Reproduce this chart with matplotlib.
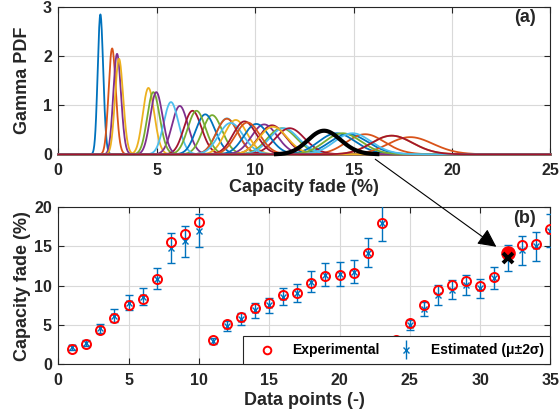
import math
import numpy as np
import matplotlib
matplotlib.use("Agg")
import matplotlib.pyplot as plt
from matplotlib.patches import ConnectionPatch
from matplotlib.lines import Line2D
from matplotlib.legend_handler import HandlerErrorbar

plt.rcParams['font.family'] = ['Liberation Sans', 'DejaVu Sans']
plt.rcParams['font.weight'] = 'bold'
plt.rcParams['axes.labelweight'] = 'bold'

# data points and capacity fade (%)
points = list(range(1, 36))
experimental = [2.0, 2.6, 4.4, 5.85, 7.6, 8.3, 10.8, 15.6, 16.55, 18.1,
                3.1, 5.1, 6.0, 7.15, 7.8, 8.85, 9.1, 10.35, 11.25, 11.35,
                11.6, 14.1, 17.95, 3.1, 5.25, 7.55, 9.45, 10.15, 10.6, 10.0,
                11.1, 14.1, 15.15, 15.35, 17.2]
est_mean = [2.15, 2.75, 4.6, 6.2, 7.85, 8.6, 10.9, 14.8, 15.65, 17.0,
            3.0, 4.85, 5.75, 6.85, 7.5, 8.6, 9.05, 10.5, 11.4, 11.5,
            11.8, 14.2, 17.95, 3.1, 5.0, 7.05, 8.8, 9.5, 10.1, 9.65,
            10.95, 13.55, 14.5, 15.0, 17.0]
est_2sigma = [0.28, 0.37, 0.59, 0.81, 1.0, 1.09, 1.35, 1.95, 1.95, 2.1,
              0.39, 0.63, 0.75, 0.9, 0.98, 1.1, 1.14, 1.31, 1.5, 1.5,
              1.5, 1.86, 2.28, 0.41, 0.63, 0.9, 1.25, 1.19, 1.29, 1.23,
              1.42, 1.66, 1.86, 1.86, 2.1]
highlight = 32  # point shown with its pdf in black

matlab_colors = [(0, 0.447, 0.741), (0.85, 0.325, 0.098), (0.929, 0.694, 0.125),
                 (0.494, 0.184, 0.556), (0.466, 0.674, 0.188), (0.301, 0.745, 0.933),
                 (0.635, 0.078, 0.184)]
dark = (0.15, 0.15, 0.15)


def gamma_pdf(x, mean, std):
    k = (mean / std) ** 2
    theta = std ** 2 / mean
    xs = np.maximum(x, 1e-9)
    logp = (k - 1) * np.log(xs) - xs / theta - math.lgamma(k) - k * math.log(theta)
    return np.exp(logp)


def style_axes(ax):
    ax.grid(True, color=(0.85, 0.85, 0.85), lw=0.8)
    ax.set_axisbelow(True)
    ax.tick_params(direction='in', top=True, right=True, labelsize=11.5,
                   colors=dark, length=4, width=0.8)
    ax.tick_params(axis='x', pad=6)
    ax.tick_params(axis='y', pad=4.5)
    for sp in ax.spines.values():
        sp.set_color(dark)
        sp.set_linewidth(0.8)
    for lab in ax.get_xticklabels() + ax.get_yticklabels():
        lab.set_fontweight('bold')


fig = plt.figure(figsize=(5.6, 4.2), dpi=100)
ax1 = fig.add_axes([0.104, 0.6326, 0.879, 0.350])
ax2 = fig.add_axes([0.104, 0.1326, 0.879, 0.3744])

# (a) gamma pdf of each estimate
x = np.linspace(0, 25, 2501)
for i, (m, s2) in enumerate(zip(est_mean, est_2sigma)):
    ax1.plot(x, gamma_pdf(x, m, s2 / 2), color=matlab_colors[i % 7], lw=1.3,
             clip_on=False, zorder=3)
hm = est_mean[highlight - 1]
hs = est_2sigma[highlight - 1] / 2
xh = np.linspace(hm - 3.0 * hs, hm + 3.2 * hs, 400)
ax1.plot(xh, gamma_pdf(xh, hm, hs), color='black', lw=3, clip_on=False, zorder=4)

ax1.set_xlim(0, 25)
ax1.set_ylim(0, 3)
ax1.set_xticks([0, 5, 10, 15, 20, 25])
ax1.set_yticks([0, 1, 2, 3])
ax1.set_xlabel('Capacity fade (%)', fontsize=13, color=dark)
ax1.set_ylabel('Gamma PDF', fontsize=13, color=dark)
ax1.xaxis.set_label_coords(0.5, -0.165)
ax1.yaxis.set_label_coords(-0.056, 0.5)
ax1.text(0.97, 0.93, '(a)', transform=ax1.transAxes, ha='right', va='center',
         fontsize=13, fontweight='bold', color=dark)
style_axes(ax1)

# (b) experimental vs estimated
ax2.errorbar(points, est_mean, yerr=est_2sigma, fmt='x', color=matlab_colors[0],
             ms=4, mew=1.0, elinewidth=1.0, capsize=3, capthick=1.0, zorder=3)
ax2.plot(points, experimental, 'o', mfc='none', mec='red', ms=6.5, mew=1.4, zorder=4)
ax2.plot(points[highlight - 1], experimental[highlight - 1], 'o', color='red',
         ms=9.5, zorder=5)
ax2.plot(points[highlight - 1], est_mean[highlight - 1], 'x', color='black',
         ms=7, mew=2.8, zorder=6)

ax2.set_xlim(0, 35)
ax2.set_ylim(0, 20)
ax2.set_xticks([0, 5, 10, 15, 20, 25, 30, 35])
ax2.set_yticks([0, 5, 10, 15, 20])
ax2.set_xlabel('Data points (-)', fontsize=13, color=dark)
ax2.set_ylabel('Capacity fade (%)', fontsize=13, color=dark)
ax2.xaxis.set_label_coords(0.5, -0.175)
ax2.yaxis.set_label_coords(-0.056, 0.5)
ax2.text(0.97, 0.93, '(b)', transform=ax2.transAxes, ha='right', va='center',
         fontsize=13, fontweight='bold', color=dark)
style_axes(ax2)

h_exp = Line2D([], [], ls='none', marker='o', mfc='none', mec='red', ms=5.5, mew=1.4)
h_est = ax2.errorbar([], [], yerr=[], fmt='x', color=matlab_colors[0], ms=4,
                     mew=1.0, elinewidth=1.0, capsize=3, capthick=1.0)
leg = ax2.legend([h_exp, h_est], ['Experimental', 'Estimated (\u03bc\u00b12\u03c3)'],
                 handler_map={h_est: HandlerErrorbar(yerr_size=0.65)},
                 loc='lower right', ncol=2, frameon=True, fancybox=False,
                 framealpha=1, edgecolor=dark, borderaxespad=0.0,
                 prop={'size': 10, 'weight': 'bold'}, handlelength=2.4,
                 columnspacing=0.7, handletextpad=0.6, borderpad=0.5)
leg.get_frame().set_linewidth(0.8)
leg.set_zorder(10)

# arrow linking the highlighted pdf to its data point
arrow = ConnectionPatch(xyA=(16.1, -0.1), coordsA=ax1.transData,
                        xyB=(31.15, 14.95), coordsB=ax2.transData,
                        arrowstyle='-|>,head_length=0.7,head_width=0.35',
                        mutation_scale=16, lw=0.8, color='black', zorder=20)
fig.add_artist(arrow)

fig.savefig('out.png', dpi=100)
